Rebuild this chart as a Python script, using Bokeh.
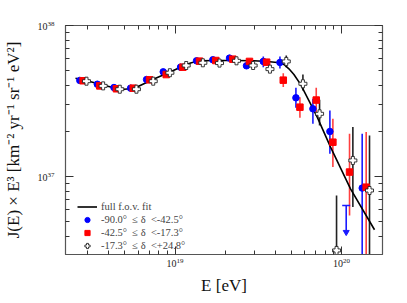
import numpy as np
from bokeh.plotting import figure
from bokeh.models import LogAxis, Legend, LegendItem, FixedTicker, Range1d
from bokeh.embed import file_html
from bokeh.resources import INLINE

# ---- data (log10 of E [eV] and log10 of J(E)E^3) ----
blue_logE = [18.428, 18.533, 18.633, 18.733, 18.829, 18.929, 19.033, 19.129, 19.227,
             19.327, 19.429, 19.530, 19.630, 19.726, 19.828, 19.930, 20.124]
blue_logJ = [37.636, 37.611, 37.589, 37.585, 37.642, 37.693, 37.724, 37.766, 37.773,
             37.784, 37.733, 37.762, 37.755, 37.521, 37.448, 37.298, 36.923]
blue_hi = [37.648, 37.623, 37.601, 37.597, 37.654, 37.705, 37.736, 37.778, 37.785,
           37.796, 37.753, 37.795, 37.795, 37.587, 37.514, 37.437, 37.283]
blue_lo = [37.624, 37.599, 37.577, 37.573, 37.630, 37.681, 37.712, 37.754, 37.761,
           37.772, 37.713, 37.724, 37.715, 37.455, 37.349, 37.150, 36.300]

blue_ul_logE = [20.028]
blue_ul_logJ = [36.808]
blue_ul_tip = [36.631]

red_logE = [18.448, 18.548, 18.648, 18.749, 18.847, 18.947, 19.047, 19.147, 19.245,
            19.347, 19.447, 19.550, 19.650, 19.750, 19.848, 19.948, 20.048, 20.148]
red_logJ = [37.634, 37.600, 37.581, 37.585, 37.640, 37.675, 37.724, 37.764, 37.768,
            37.777, 37.762, 37.757, 37.638, 37.459, 37.506, 37.227, 37.029, 36.929]
red_hi = [37.646, 37.612, 37.593, 37.597, 37.652, 37.687, 37.736, 37.776, 37.780,
          37.792, 37.778, 37.773, 37.684, 37.525, 37.587, 37.382, 37.283, 37.294]
red_lo = [37.622, 37.588, 37.569, 37.573, 37.628, 37.663, 37.712, 37.752, 37.756,
          37.762, 37.746, 37.741, 37.592, 37.389, 37.404, 37.062, 36.742, 36.300]

white_logE = [18.468, 18.568, 18.668, 18.768, 18.869, 18.969, 19.067, 19.167, 19.267,
              19.369, 19.469, 19.570, 19.668, 19.768, 19.868, 19.970, 20.068, 20.168]
white_logJ = [37.631, 37.600, 37.578, 37.578, 37.631, 37.687, 37.735, 37.753, 37.751,
              37.766, 37.735, 37.711, 37.762, 37.614, 37.415, 36.510, 37.106, 36.907]
white_hi = [37.643, 37.612, 37.590, 37.590, 37.643, 37.699, 37.747, 37.765, 37.763,
            37.778, 37.752, 37.731, 37.801, 37.675, 37.508, 36.874, 37.327, 37.272]
white_lo = [37.619, 37.588, 37.566, 37.566, 37.619, 37.675, 37.723, 37.741, 37.739,
            37.754, 37.718, 37.691, 37.724, 37.570, 37.338, 36.510, 36.797, 36.300]

fit_logE = [18.402, 18.472, 18.553, 18.633, 18.693, 18.753, 18.813, 18.873, 18.953,
            19.033, 19.093, 19.143, 19.253, 19.353, 19.473, 19.554, 19.614, 19.654,
            19.684, 19.714, 19.754, 19.804, 19.854, 19.934, 20.054, 20.198]
fit_logJ = [37.651, 37.634, 37.609, 37.587, 37.578, 37.583, 37.614, 37.645, 37.684,
            37.724, 37.751, 37.766, 37.768, 37.768, 37.766, 37.762, 37.755, 37.742,
            37.713, 37.675, 37.610, 37.503, 37.393, 37.194, 36.918, 36.647]

legend_labels = ["full f.o.v. fit",
                 "-90.0\u00b0  \u2264 \u03b4  <-42.5\u00b0",
                 "-42.5\u00b0  \u2264 \u03b4  <-17.3\u00b0",
                 "-17.3\u00b0  \u2264 \u03b4  <+24.8\u00b0"]

x_major = [1e19, 1e20]
y_major = [1e37, 1e38]

def p10(a):
    return list(10.0 ** np.asarray(a, dtype=float))

FONT = "Liberation Serif"

p = figure(width=406, height=302, x_axis_type="log", y_axis_type="log",
           x_range=Range1d(10 ** 18.342, 10 ** 20.246),
           y_range=Range1d(10 ** 36.483, 1e38),
           output_backend="svg", toolbar_location=None,
           min_border_left=65, min_border_right=24, min_border_top=25,
           min_border_bottom=48)
p.xgrid.visible = False
p.ygrid.visible = False
p.outline_line_color = "#555555"
p.outline_line_width = 1.2
p.background_fill_color = "white"

x_minor = [k * 10.0 ** n for n in (18, 19, 20) for k in range(2, 10)]
y_minor = [k * 10.0 ** n for n in (36, 37) for k in range(2, 10)]

def style(ax, ticks, minor, show):
    ax.ticker = FixedTicker(ticks=ticks, minor_ticks=minor)
    ax.major_tick_in = 8
    ax.major_tick_out = 0
    ax.minor_tick_in = 4
    ax.minor_tick_out = 0
    ax.axis_line_color = "#555555"
    ax.major_tick_line_color = "#333333"
    ax.minor_tick_line_color = "#333333"
    ax.major_label_text_font = FONT
    ax.major_label_text_font_size = "10px"
    if show:
        ax.major_label_text_color = "#222222"
    else:
        ax.major_label_text_color = None
        ax.major_label_standoff = 0

xa = p.xaxis[0]
ya = p.yaxis[0]
style(xa, x_major, x_minor, True)
style(ya, y_major, y_minor, True)
xa.major_label_standoff = 3
ya.major_label_standoff = 11
xa.axis_label = "E [eV]"
ya.axis_label = "J(E) \u00d7 E\u00b3 [km\u207b\u00b2 yr\u207b\u00b9 sr\u207b\u00b9 eV\u00b2]"
for ax in (xa, ya):
    ax.axis_label_text_font = FONT
    ax.axis_label_text_font_style = "normal"
    ax.axis_label_text_font_size = "17px"
    ax.axis_label_text_color = "#111111"
xa.axis_label_standoff = 6
ya.axis_label_standoff = 12

top = LogAxis()
style(top, x_major, x_minor, False)
p.add_layout(top, "above")
right = LogAxis()
style(right, y_major, y_minor, False)
p.add_layout(right, "right")

# error bars
p.segment(p10(blue_logE), p10(blue_lo), p10(blue_logE), p10(blue_hi),
          line_color="#1a1aff", line_width=1.6)
p.segment(p10(red_logE), p10(red_lo), p10(red_logE), p10(red_hi),
          line_color="#ff4040", line_width=1.6)
p.segment(p10(white_logE), p10(white_lo), p10(white_logE), p10(white_hi),
          line_color="#222222", line_width=1.6)

# upper limit
p.segment(p10(blue_ul_logE), p10(blue_ul_logJ), p10(blue_ul_logE), p10(blue_ul_tip),
          line_color="#1a1aff", line_width=1.6)
p.scatter(p10(blue_ul_logE), p10(blue_ul_logJ), marker="dash", size=8,
          line_color="#1a1aff", line_width=1.6)
p.scatter(p10(blue_ul_logE), p10(blue_ul_tip), marker="inverted_triangle", size=6,
          fill_color="#1a1aff", line_color="#1a1aff")

# fit
fit = p.line(p10(fit_logE), p10(fit_logJ), line_color="black", line_width=1.6)

# points
rb = p.scatter(p10(blue_logE), p10(blue_logJ), marker="circle", size=6.5,
               fill_color="#0000ff", line_color="#0000ff")
rr = p.scatter(p10(red_logE), p10(red_logJ), marker="square", size=6.5,
               fill_color="#ff0000", line_color="#ff0000")
rw = p.scatter(p10(white_logE), p10(white_logJ), marker="plus", size=8,
               fill_color="white", line_color="#222222", line_width=0.9)

legend = Legend(items=[LegendItem(label=legend_labels[0], renderers=[fit]),
                       LegendItem(label=legend_labels[1], renderers=[rb]),
                       LegendItem(label=legend_labels[2], renderers=[rr]),
                       LegendItem(label=legend_labels[3], renderers=[rw])],
                location=(10, 0))
legend.background_fill_alpha = 0
legend.border_line_alpha = 0
legend.label_text_font = FONT
legend.label_text_font_size = "10.5px"
legend.label_height = 13
legend.glyph_height = 13
legend.glyph_width = 20
legend.label_standoff = 4
legend.spacing = 0
legend.padding = 2
legend.margin = 0
p.add_layout(legend)

open("out.html", "w").write(file_html(p, INLINE))
